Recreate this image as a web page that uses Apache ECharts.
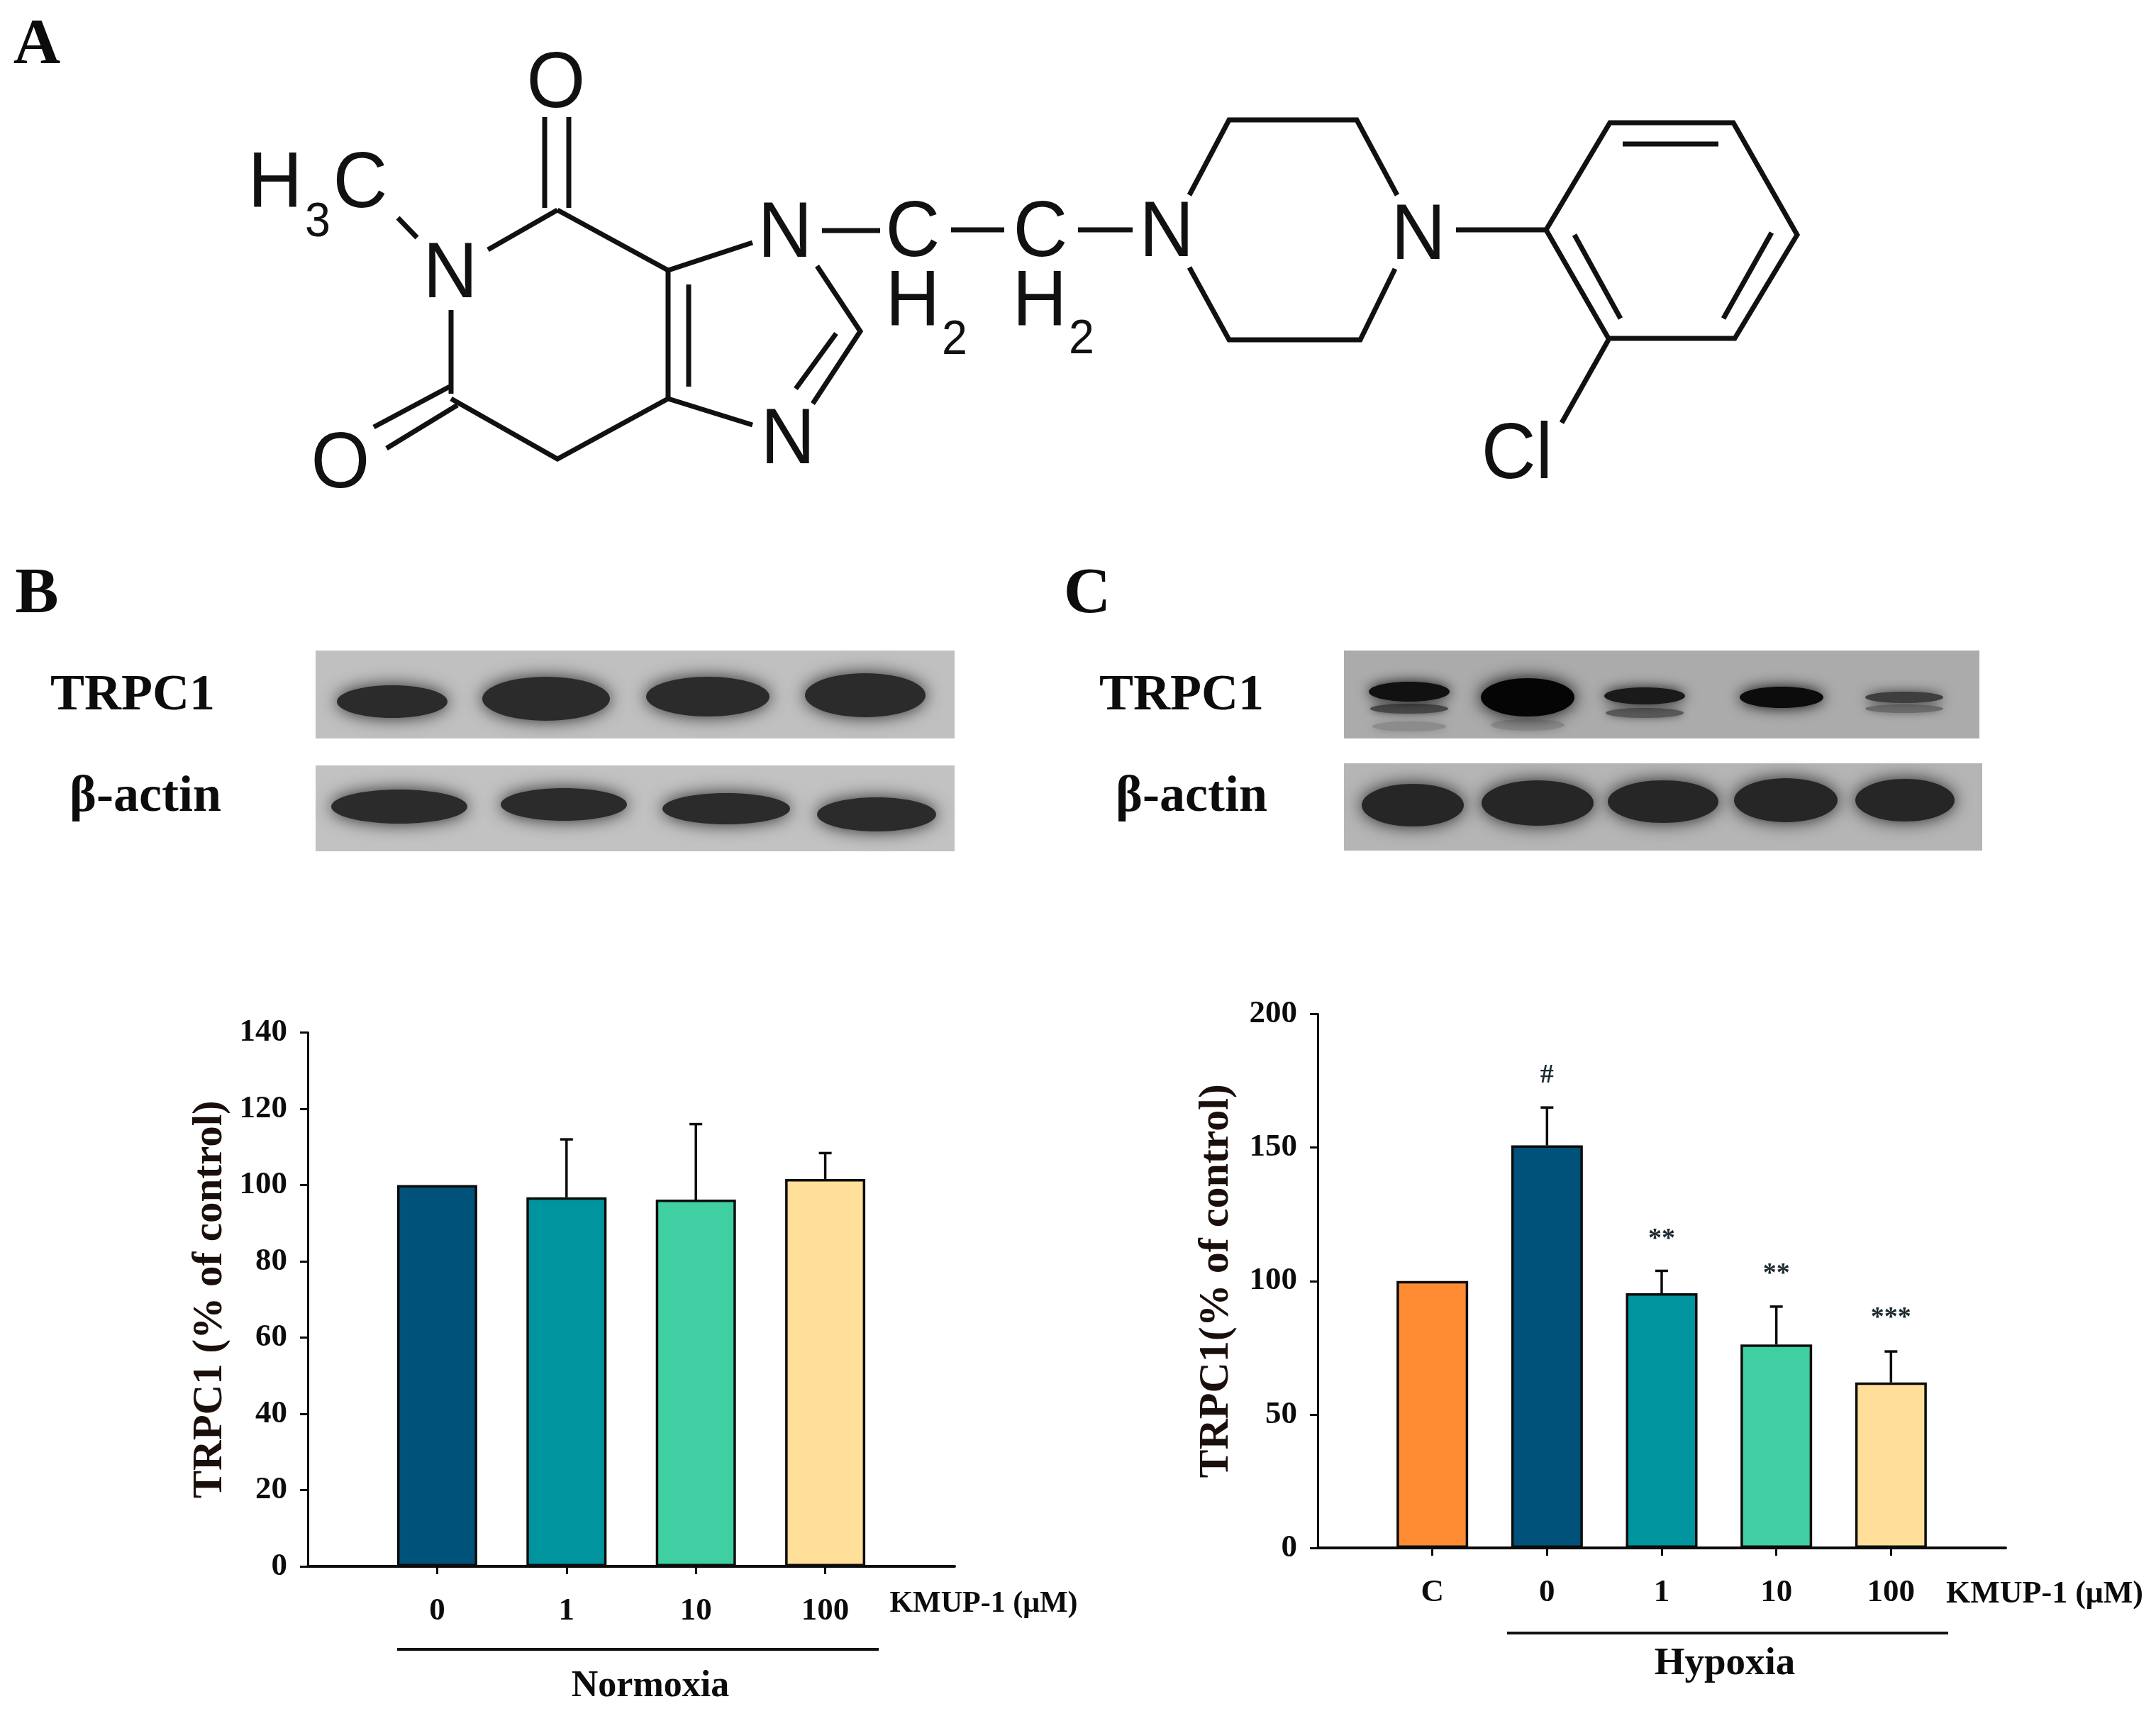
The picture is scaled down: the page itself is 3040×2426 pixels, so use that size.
<!DOCTYPE html>
<html><head><meta charset="utf-8">
<style>html,body{margin:0;padding:0;background:#fff}#c{width:3040px;height:2426px}</style>
<script src="https://cdn.jsdelivr.net/npm/echarts@6/dist/echarts.min.js"></script>
</head><body><div id="c"></div>
<script>
// ---- data ----
const normoxiaDoses = ['0','1','10','100'];
const normoxiaValues = [100,96.8,96.2,101.6];
const normoxiaErrorTops = [null,112,116,108.4];
const hypoxiaDoses = ['C','0','1','10','100'];
const hypoxiaValues = [100,150.8,95.4,76.2,62];
const hypoxiaErrorTops = [null,165,103.8,90.4,73.6];
const hypoxiaMarks = [null,'#','**','**','***'];
const hypoxiaMarkLevels = [null,177,115.5,102.5,86];
const normoxiaColors = ['#00527a','#00949e','#40cfa2','#ffdf99'];
const hypoxiaColors = ['#ff8c33','#00527a','#00949e','#40cfa2','#ffdf99'];
const normoxiaTicks = {max:140,interval:20};
const hypoxiaTicks = {max:200,interval:50};

const SERIF='"Liberation Serif","Times New Roman",serif', SANS='"Liberation Sans",Arial,sans-serif';
const INK='#0c0c0c', TITLE='#1a0f0a';
const pad = a => ['',...a,''];
const padNull = a => [null,...a,null];

function errorSeries(gi,tops,vals){
  return {type:'custom',xAxisIndex:gi,yAxisIndex:gi,z:3,silent:true,
    data:tops.map((t,i)=>t==null?null:[i+1,vals[i],t]).filter(Boolean),
    encode:{x:0,y:[1,2]},
    renderItem(p,api){
      const a=api.coord([api.value(0),api.value(1)]),b=api.coord([api.value(0),api.value(2)]);
      const s={stroke:INK,lineWidth:3.5};
      return {type:'group',children:[
        {type:'line',shape:{x1:a[0],y1:a[1],x2:b[0],y2:b[1]},style:s},
        {type:'line',shape:{x1:b[0]-9,y1:b[1],x2:b[0]+9,y2:b[1]},style:s}]};
    }};
}
function barSeries(gi,vals,cols,w){
  return {type:'bar',xAxisIndex:gi,yAxisIndex:gi,barWidth:w,z:2,silent:true,
    data:padNull(vals.map((v,i)=>({value:v,itemStyle:{color:cols[i],borderColor:INK,borderWidth:3.5}})))};
}
function xAx(gi,cats,margin){
  return {type:'category',gridIndex:gi,data:pad(cats),boundaryGap:false,
    axisLine:{lineStyle:{color:INK,width:4}},
    axisTick:{length:11,inside:false,lineStyle:{color:INK,width:3},interval:(i,v)=>v!==''},
    axisLabel:{interval:0,margin,color:INK,fontFamily:SERIF,fontWeight:'bold',fontSize:45}};
}
function yAx(gi,t,title,gap,size){
  return {type:'value',gridIndex:gi,min:0,max:t.max,interval:t.interval,splitLine:{show:false},
    axisLine:{show:true,lineStyle:{color:INK,width:3}},
    axisTick:{show:true,length:11,lineStyle:{color:INK,width:3}},
    axisLabel:{margin:29,color:INK,fontFamily:SERIF,fontWeight:'bold',fontSize:45},
    name:title,nameLocation:'middle',nameGap:gap,nameRotate:90,
    nameTextStyle:{color:TITLE,fontFamily:SERIF,fontWeight:'bold',fontSize:size}};
}
const markSeries={type:'custom',xAxisIndex:1,yAxisIndex:1,z:4,silent:true,
  data:hypoxiaMarks.map((m,i)=>m?[i+1,hypoxiaMarkLevels[i],m]:null).filter(Boolean),
  encode:{x:0,y:1},
  renderItem(p,api){
    const c=api.coord([api.value(0),api.value(1)]);
    const txt=markSeries.data[p.dataIndex][2];
    return {type:'text',style:{x:c[0],y:c[1],text:txt,align:'center',verticalAlign:'middle',
      fill:'#1c2a30',font:'bold 38px '+SERIF}};
  }};

// ---- figure furniture: structure, blots, annotations ----
const g=[];
const T=(text,x,y,size)=>g.push({type:'text',silent:true,style:{x,y,text,
  textAlign:'center',textVerticalAlign:'middle',fill:INK,font:'bold '+size+'px '+SERIF}});
const L=(pts,w=7)=>g.push({type:'polyline',silent:true,shape:{points:pts},style:{stroke:'#111',lineWidth:w,fill:null,lineJoin:'miter'}});
const chem=(t,x,y,s=112)=>g.push({type:'text',silent:true,x,y:y+6,scaleX:.95,style:{x:0,y:0,text:t,
  textAlign:'center',textVerticalAlign:'middle',fill:'#111',font:'normal '+s+'px '+SANS}});

T('A',52,65,92);T('B',52,839,92);T('C',1533,839,92);

[[[786,296],[688,352]],[[786,296],[942,381],[1061,342]],[[942,381],[942,562]],[[971,401],[971,545]],
 [[942,562],[1061,599]],[[942,562],[786,647],[636,562]],[[636,437],[636,555]],[[634,545],[527,602]],
 [[645,571],[545,632]],[[561,307],[588,335]],[[768,165],[768,293]],[[802,165],[802,293]],
 [[1152,375],[1213,467],[1146,569]],[[1179,470],[1122,548]],
 [[1159,325],[1241,325]],[[1341,324],[1416,324]],[[1520,324],[1597,324]],
 [[1677,275],[1733,169],[1913,169],[1970,275]],[[1677,377],[1733,479],[1918,479],[1967,379]],
 [[2053,324],[2180,324]],[[2180,324],[2270,173],[2444,173],[2534,331],[2446,477],[2268,477],[2180,324]],
 [[2288,203],[2423,203]],[[2220,331],[2285,449]],[[2498,328],[2430,449]],[[2268,479],[2202,596]]
].forEach(p=>L(p));
chem('O',784,114);chem('O',480,650);chem('H',388,255);chem('C',508,255);chem('3',448,308,68);
chem('N',1107,325);chem('N',635,382);chem('N',1111,616);
chem('C',1287,324);chem('H',1287,422);chem('2',1346,474,68);
chem('C',1467,324);chem('H',1466,422);chem('2',1525,473,68);
chem('N',1645,324);chem('N',2000,328);chem('Cl',2139,637);

function blot(x,y,w,h,bg,bands){
  g.push({type:'rect',silent:true,shape:{x,y,width:w,height:h},style:{fill:bg}});
  bands.forEach(([cx,cy,rx,ry,col,blur])=>g.push({type:'ellipse',silent:true,shape:{cx,cy,rx,ry},
    style:{fill:col,shadowColor:col,shadowBlur:blur||24}}));
}
const D='#2b2b2b';
blot(445,917,901,124,'#c0c0c0',[[553,989,78,23,D],[770,985,90,31,D],[998,982,87,28,D],[1220,980,85,31,D]]);
blot(445,1079,901,121,'#c2c2c2',[[563,1137,96,24,D],[795,1134,89,23,D],[1024,1140,90,22,D],[1236,1148,84,24,D]]);
blot(1895,917,896,124,'#ababab',[[1987,1024,52,7,'#8c8c8c',12],[1987,999,55,7,'#4a4a4a',12],[1987,975,57,14,'#111',18],
  [2154,1022,52,8,'#8c8c8c',12],[2154,983,66,27,'#050505'],[2319,1005,55,7,'#5a5a5a',12],[2319,981,57,12,'#1a1a1a',18],
  [2512,983,59,15,'#0c0c0c',20],[2685,999,55,6,'#6e6e6e',12],[2685,983,55,8,'#3e3e3e',16]]);
blot(1895,1076,900,123,'#b5b5b5',[[1992,1135,72,30,'#262626'],[2168,1132,79,32,'#262626'],[2345,1130,78,30,'#262626'],
  [2518,1128,73,31,'#262626'],[2686,1128,70,30,'#262626']]);

T('TRPC1',187,981,72);T('β-actin',205,1124,72);
T('TRPC1',1666,981,72);T('β-actin',1680,1124,72);

T('KMUP-1 (μM)',1387,2261,42);
T('KMUP-1 (μM)',2883,2248,44);
L([[560,2325],[1239,2325]],4);
L([[2125,2302],[2747,2302]],4);
T('Normoxia',917,2378,52);
T('Hypoxia',2432,2346,55);

const option={
  backgroundColor:'#fff',animation:false,
  grid:[{left:434,top:1455.6,width:912,height:752.4,containLabel:false},
        {left:1858,top:1429.5,width:970,height:752.5,containLabel:false}],
  xAxis:[xAx(0,normoxiaDoses,41),xAx(1,hypoxiaDoses,41)],
  yAxis:[yAx(0,normoxiaTicks,'TRPC1 (% of control)',108,59),yAx(1,hypoxiaTicks,'TRPC1(% of control)',113,60)],
  series:[barSeries(0,normoxiaValues,normoxiaColors,113),errorSeries(0,normoxiaErrorTops,normoxiaValues),
          barSeries(1,hypoxiaValues,hypoxiaColors,101),errorSeries(1,hypoxiaErrorTops,hypoxiaValues),markSeries],
  graphic:g
};
const chart=echarts.init(document.getElementById('c'),null,{renderer:'canvas',width:3040,height:2426});
chart.setOption(option);
</script></body></html>
